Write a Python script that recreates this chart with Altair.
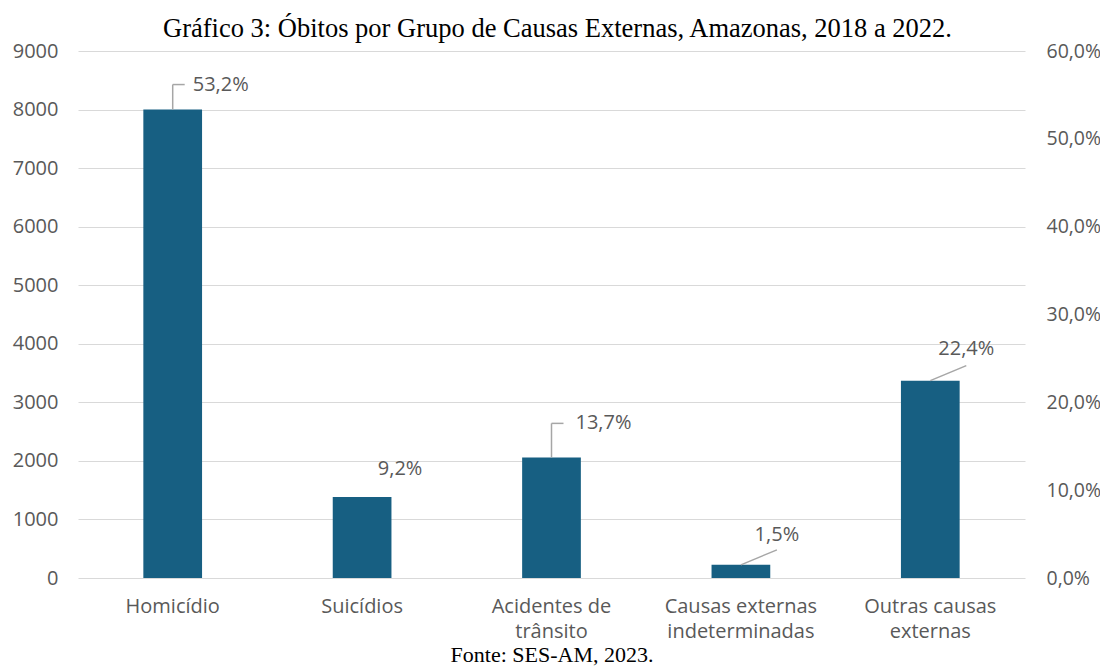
import altair as alt
import pandas as pd

categories = ["Homicídio", "Suicídios", "Acidentes de|trânsito",
              "Causas externas|indeterminadas", "Outras causas|externas"]
deaths = [8000, 1385, 2060, 225, 3370]
percents = [53.2, 9.2, 13.7, 1.5, 22.4]
pct_ticks = [0, 10, 20, 30, 40, 50, 60]

df = pd.DataFrame({"cat": categories, "obitos": deaths, "pct": percents})
df["lab"] = [f"{p:.1f}".replace(".", ",") + "%" for p in percents]

FONT = "Open Sans"
GRAY = "#595959"
BAR = "#175F82"
LEAD = "#A6A6A6"
W, H = 947, 527

xenc = alt.X("cat:N", sort=categories, scale=alt.Scale(paddingInner=0.69, paddingOuter=0.345),
             axis=alt.Axis(title="Fonte: SES-AM, 2023.", titleFont="Liberation Serif",
                           titleFontSize=22, titleFontWeight="normal", titleColor="black",
                           titlePadding=3,
                           labelExpr="split(datum.label, '|')", labelAngle=0,
                           labelFont=FONT, labelFontSize=20, labelColor=GRAY,
                           labelLineHeight=25, labelPadding=18, ticks=False, domain=False,
                           grid=False))

yenc = alt.Y("obitos:Q", scale=alt.Scale(domain=[0, 9000]),
             axis=alt.Axis(title=None, values=list(range(0, 9001, 1000)), format="d",
                           labelFont=FONT, labelFontSize=20, labelColor=GRAY, labelPadding=20,
                           ticks=False, domain=False, gridColor="#D9D9D9", gridWidth=1.2))

base = alt.Chart(df)

bars = base.mark_bar(color=BAR).encode(x=xenc, y=yenc)

# right axis (percent)
right = alt.Chart(pd.DataFrame({"p": pct_ticks})).mark_point(opacity=0).encode(
    y=alt.Y("p:Q", scale=alt.Scale(domain=[0, 60]),
            axis=alt.Axis(orient="right", title=None, values=pct_ticks,
                          labelExpr="replace(format(datum.value, '.1f'), '.', ',') + '%'",
                          labelFont=FONT, labelFontSize=19.5, labelColor=GRAY, labelPadding=21,
                          ticks=False, domain=False, grid=False))
)

xs = alt.X("cat:N", sort=categories)
ys = alt.Y("obitos:Q")

# label layout: (category index, text dx, text dy, leader type, leader dy, leader dx)
layers = [bars]
spec = [
    (0, 48, -25, "elbow", -25, 12),
    (1, 38, -28, None, 0, 0),
    (2, 52, -34, "elbow", -34, 12),
    (3, 36, -30, "diag", -15, 36),
    (4, 36, -32, "diag", -15, 36),
]
for i, dx, dy, kind, ly, lx in spec:
    sub = base.transform_filter(alt.datum.cat == categories[i])
    layers.append(sub.mark_text(font=FONT, fontSize=20, color=GRAY, dx=dx, dy=dy,
                                baseline="middle", align="center").encode(x=xs, y=ys, text="lab:N"))
    if kind == "elbow":
        layers.append(sub.mark_rule(color=LEAD, strokeWidth=1.5, y2Offset=ly).encode(
            x=xs, y=ys, y2="obitos:Q"))
        layers.append(sub.mark_rule(color=LEAD, strokeWidth=1.5, yOffset=ly, y2Offset=ly,
                                    x2Offset=lx).encode(x=xs, x2="cat:N", y=ys, y2="obitos:Q"))
    elif kind == "diag":
        layers.append(sub.mark_rule(color=LEAD, strokeWidth=1.5, y2Offset=ly,
                                    x2Offset=lx).encode(x=xs, x2="cat:N", y=ys, y2="obitos:Q"))

left = alt.layer(*layers)

chart = alt.layer(left, right).resolve_scale(y="independent").properties(
    width=W, height=H,
    autosize=alt.AutoSizeParams(type="none"),
    padding={"left": 70, "top": 43, "right": 75, "bottom": 88},
    title=alt.Title("Gráfico 3: Óbitos por Grupo de Causas Externas, Amazonas, 2018 a 2022.",
                    font="Liberation Serif", fontSize=26.5, fontWeight="normal", color="black",
                    anchor="middle", offset=-1, dx=6),
).configure_view(stroke=None)

chart.save("out.html", embed_options={"renderer": "svg", "actions": False})
